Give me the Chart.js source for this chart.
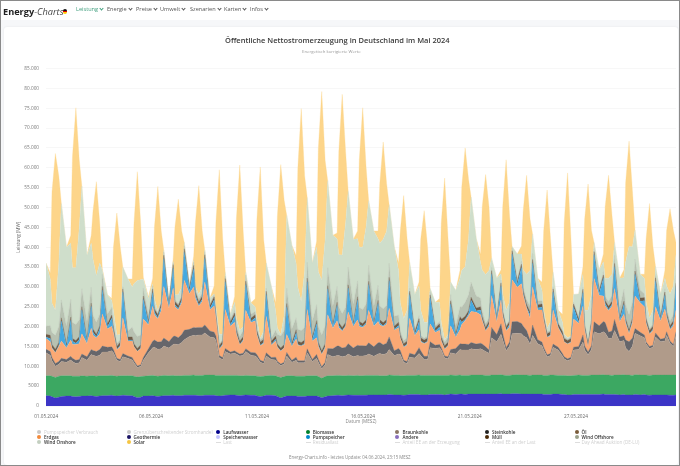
<!DOCTYPE html>
<html lang="de">
<head>
<meta charset="utf-8">
<title>Energy-Charts</title>
<script src="https://cdn.jsdelivr.net/npm/chart.js@4"></script>
<style>
html, body { margin: 0; padding: 0; background: #fff; }
#page { position: relative; width: 680px; height: 466px; overflow: hidden; font-family: "Open Sans", sans-serif; background: #f6f7f9; }
#top { position: absolute; left: 0; top: 0; width: 680px; height: 20px; background: #fff; }
#card { position: absolute; left: 4px; top: 27px; width: 674px; height: 438px; background: #fff; border-radius: 3px; box-shadow: 0 0 2px #e2e4e8; }
#frame { position: absolute; left: 0; top: 0; width: 678px; height: 464px; border: 1px solid #8a8a8a; pointer-events: none; }
#c { position: absolute; left: 0; top: 0; }
#logo { position: absolute; left: 3px; top: 3px; line-height: 13px; color: #222; white-space: nowrap; }
#logo b { font-weight: 700; font-size: 9.2px; }
#logo i { color: #444; font-size: 9.2px; }
#flag { position: absolute; left: 62.5px; top: 9.3px; width: 4.6px; height: 4.6px; border-radius: 50%; background: linear-gradient(#111 33%, #d00 33%, #d00 66%, #fc0 66%); }
#title { position: absolute; left: 225px; top: 35px; font-size: 7.5px; line-height: 10px; font-weight: 600; color: #3a3a3a; white-space: nowrap; }
#subtitle { position: absolute; left: 302px; top: 48px; font-size: 4.3px; line-height: 6px; color: #999; white-space: nowrap; }
.nav { position: absolute; top: 6px; font-size: 5.6px; line-height: 7px; color: #555; white-space: nowrap; }
.nav::after { content: ""; display: inline-block; width: 2px; height: 2px; margin-left: 2px; position: relative; top: -1px; border-right: 0.7px solid currentColor; border-bottom: 0.7px solid currentColor; transform: rotate(45deg); }
.lg { position: absolute; font-size: 4.6px; line-height: 6px; font-weight: 600; color: #333; white-space: nowrap; }
.lg.off { color: #cfcfcf; font-weight: 400; }
.dot { position: absolute; width: 4px; height: 4px; border-radius: 50%; }
.dash { position: absolute; width: 5px; height: 0; border-top: 0.6px solid #ddd; }
#foot { position: absolute; left: 289px; top: 454px; font-size: 4.4px; line-height: 6px; color: #888; white-space: nowrap; }
</style>
</head>
<body>
<div id="page">
  <div id="top"></div>
  <div id="card"></div>
  <canvas id="c" width="680" height="466"></canvas>
  <div id="logo"><b>Energy</b><i>-Charts</i></div>
  <div id="flag"></div>
  <div id="nav"></div>
  <div id="title">Öffentliche Nettostromerzeugung in Deutschland im Mai 2024</div>
  <div id="subtitle">Energetisch korrigierte Werte</div>
  <div id="legend"></div>
  <div id="foot">Energy-Charts.info - letztes Update: 04.06.2024, 23:15 MESZ</div>
  <div id="frame"></div>
</div>
<script>
var hoursOfDay = [2, 7, 9, 13, 17, 20];
var dayCount = 31;
var tickDays = [0.09, 5.21, 10.38, 15.55, 20.77, 25.95];
var tickDates = ['01.05.2024', '06.05.2024', '11.05.2024', '16.05.2024', '21.05.2024', '27.05.2024'];
var navNames = ['Leistung', 'Energie', 'Preise', 'Umwelt', 'Szenarien', 'Karten', 'Infos'];
var navLefts = [76, 107, 136, 160, 190, 224, 250];

var laufwasser = [
2600,2500,2300,2000,2200,2400,
2500,2500,2400,2300,2400,2500,
2500,2600,2500,2400,2500,2600,
2600,2700,2600,2500,2600,2700,
2600,2600,2400,2100,2200,2500,
2500,2600,2500,2400,2500,2600,
2600,2700,2600,2600,2600,2700,
2700,2700,2700,2600,2600,2700,
2700,2700,2600,2500,2600,2700,
2800,2800,2700,2600,2700,2800,
2700,2700,2500,2400,2500,2700,
2700,2600,2400,2000,2300,2500,
2500,2500,2400,2400,2400,2500,
2500,2500,2400,2100,2300,2500,
2600,2700,2700,2600,2700,2800,
2700,2700,2700,2700,2700,2800,
2800,2800,2800,2800,2800,2900,
2800,2800,2800,2700,2800,2900,
2900,2900,2800,2800,2800,2900,
2900,2900,2900,2800,2900,3000,
2900,3000,3000,2900,3000,3000,
3000,3000,3000,3000,3000,3000,
3000,3100,3000,3000,3000,3100,
3100,3000,3000,3000,3000,3000,
3000,3000,2900,2900,2900,3000,
3000,2900,2900,2800,2800,2900,
2900,2900,2900,2900,2900,2900,
2900,3000,2900,2900,2900,2900,
2800,2900,2800,2800,2800,2900,
2800,2900,2800,2700,2800,2800,
2800,2800,2800,2700,2700,2800];

var biomasse = [
5000,5100,5200,5200,5300,5200,
5100,5100,5100,5200,5100,5100,
5000,5000,5100,5100,5100,5000,
5000,5000,5000,5000,5000,4900,
5000,5000,5100,5200,5200,5000,
5100,5100,5100,5100,5100,5100,
5000,5000,5000,5000,5000,5000,
5000,5100,5000,5100,5100,5100,
5100,5100,5100,5200,5100,5000,
4900,4900,5000,5000,4900,4900,
4900,4900,5000,5000,5000,4900,
5000,5000,5000,5200,5100,5100,
5100,5000,5100,5100,5100,5100,
5100,5100,5000,4900,5100,5100,
5000,5000,5000,5000,4900,4900,
4900,5000,4900,4900,5000,4900,
4900,4900,4800,4800,4800,4900,
4900,4900,4800,4900,4900,4800,
4800,4900,4900,4900,4900,4800,
4800,4800,4800,4900,4800,4800,
4800,4800,4700,4800,4700,4800,
4800,4800,4800,4700,4700,4800,
4800,4800,4800,4700,4700,4700,
4800,4800,4800,4800,4700,4800,
4800,4800,4800,4800,4900,4800,
4700,4800,4800,4800,4800,4800,
4900,4800,4800,4800,4900,4900,
4900,4900,4900,4900,4800,4900,
5000,5000,5000,5000,4900,5000,
5000,4900,5000,5000,5000,5000,
5000,5000,5000,5100,5100,5000];

var braunkohle = [
5800,5200,3900,2800,3000,3600,
3400,4000,3700,3200,3400,4600,
4000,5400,5200,5000,5200,6000,
6000,6200,5800,4000,3600,4800,
4400,4000,3400,2400,2600,4000,
5800,7000,7200,6800,6800,7400,
7000,7800,8000,7800,8400,9000,
9800,10000,10000,10200,10200,10600,
9600,9400,8800,4400,4000,6000,
5400,5600,5400,5000,5200,6000,
5200,5000,4800,3600,3200,5000,
4000,4000,3400,3000,3200,5000,
3400,4000,3400,3400,3400,5800,
3600,4400,3600,2400,3000,5400,
4800,5000,5000,4800,5000,5400,
4800,5000,5000,5000,5000,5400,
4800,5400,5600,5400,5600,6400,
5000,5400,5400,3400,3000,4600,
4400,5400,5000,4000,4000,7000,
6800,7000,6400,4400,4200,5600,
5400,6400,6400,6400,6400,6600,
6400,6600,6400,6000,5600,9400,
8400,10200,8900,6200,7400,10400,
10400,10400,9900,9400,7900,10000,
7900,7400,6400,4700,4900,7000,
6400,4900,4200,3800,4200,6400,
6400,8400,6400,5200,6400,10900,
10400,10800,10600,9200,9400,11200,
8400,8600,6800,5900,7400,10400,
9900,9400,7800,6800,7000,9600,
8400,8600,10000,8000,7200,10000];

var steinkohle = [
900,900,800,700,700,800,
700,900,800,800,800,900,
900,1200,1200,1200,1400,1500,
1200,1000,800,500,500,800,
600,600,500,400,400,700,
1000,1600,1800,1800,1800,2000,
1600,2000,2000,1800,2000,2400,
1800,2000,2000,1900,1900,2000,
1500,1400,1200,600,500,800,
500,600,500,500,500,700,
700,800,700,500,500,800,
500,700,500,400,400,900,
500,800,500,500,500,1000,
500,1000,800,500,600,1500,
2000,2400,2400,2200,2200,2600,
2200,2600,2600,2600,2400,2800,
2400,2800,2800,2400,2600,3200,
1200,1400,1000,500,500,1000,
800,1500,1200,800,800,1500,
800,800,600,500,500,800,
1400,1500,1500,1500,1400,1600,
1400,1400,1400,1200,800,2600,
1800,2600,1600,800,1000,3000,
3000,2600,2400,1800,1000,2600,
1000,900,700,500,500,800,
700,600,500,500,500,700,
800,1800,1000,700,1000,2500,
2000,2600,2600,1600,1800,2800,
1200,1200,2000,2500,2000,1200,
900,700,500,500,500,1000,
600,700,900,600,500,900];

var erdgas = [
2700,2500,2300,2700,3700,4400,
2900,4100,3500,4000,4000,5100,
3300,5400,3800,3400,4000,8100,
4600,5200,4200,2100,3300,9000,
3800,4200,3500,3600,4000,9700,
6000,8800,6400,5800,7800,13000,
8400,12200,7400,7000,8000,12600,
9000,10200,7400,5300,6500,10800,
5300,6600,4400,1600,3100,9800,
6500,7200,4500,2300,3100,9700,
7500,8000,4900,3700,4500,9200,
3100,4100,3500,3200,3600,4500,
3500,4600,3900,3700,4100,9900,
4700,4200,3200,3100,3600,8500,
5200,6400,4600,4200,5200,8000,
5400,6400,4800,4600,5400,8200,
5200,5400,4400,4600,4800,7200,
5200,5200,3000,3300,4100,8800,
4800,4500,2200,3200,3600,4500,
3200,3600,1600,1700,2700,6000,
2800,3500,4900,5900,7200,7800,
8000,7200,5800,4000,6000,8000,
3200,6000,4300,4200,3800,10600,
8600,10000,7700,5600,5500,9600,
7500,8100,6700,4400,4400,8600,
4900,4500,3700,3700,3700,7100,
5800,7200,4000,1300,5000,10900,
7600,6400,4200,5400,6200,7800,
3800,5400,4200,2000,3800,8200,
7400,7100,4700,3100,3700,6600,
4600,7300,3500,2800,4700,5500];

var pumpspeicher = [
300,800,200,100,300,5000,
200,5000,800,300,1000,6000,
300,5500,800,300,1200,6000,
500,2000,500,100,300,6500,
200,200,100,100,200,5000,
300,3500,600,300,1000,7000,
300,5000,500,300,600,7000,
600,4500,800,300,600,6000,
300,1500,300,100,300,7000,
300,1500,300,100,300,6500,
300,800,300,100,300,5500,
200,400,100,100,100,7000,
100,1500,200,100,300,7000,
200,3500,300,100,300,6500,
300,3800,500,200,300,6000,
300,5000,500,200,400,6500,
300,4500,500,200,400,7000,
200,600,100,100,300,6000,
200,2000,300,100,200,6500,
300,800,200,100,200,5500,
200,2500,600,300,500,2800,
300,1200,300,100,500,5500,
300,3500,400,200,600,6500,
600,4000,400,200,800,6000,
500,700,200,100,300,4500,
200,200,100,100,200,3000,
300,3500,400,100,500,6000,
400,4500,600,300,500,5500,
300,2500,400,200,500,5500,
400,1500,300,100,300,6500,
300,3500,500,200,500,6000];

var muell = [
800,800,800,800,800,800,
800,800,700,700,800,800,
800,800,800,700,800,900,
800,800,800,800,800,800,
800,800,700,700,800,800,
800,900,800,800,800,900,
800,900,800,800,800,900,
800,900,800,800,800,900,
800,800,800,800,800,800,
800,800,800,800,800,900,
800,800,800,800,800,800,
800,800,700,700,800,800,
800,800,800,800,800,900,
800,800,800,800,800,800,
800,800,800,800,800,800,
800,800,800,800,800,800,
800,800,800,800,800,800,
800,800,800,800,800,800,
800,800,800,800,800,800,
800,800,800,800,800,800,
800,800,800,800,800,800,
800,800,800,800,800,800,
800,800,800,800,800,800,
800,900,800,800,800,900,
800,800,800,800,800,800,
800,800,800,800,800,800,
800,800,800,800,800,800,
800,800,800,800,800,800,
800,800,800,800,800,800,
800,800,800,800,800,800,
800,800,800,800,800,800];

var windOffshore = [
2000,2500,3000,3500,4000,4500,
4500,4500,4000,4000,4200,4500,
4500,4000,3500,3000,3000,3000,
2500,2000,1200,800,600,500,
1500,2500,3000,3000,2500,2000,
1500,800,600,500,500,800,
600,500,500,500,500,800,
800,800,800,800,800,800,
600,600,600,500,500,600,
800,800,1000,1200,1500,1500,
1000,800,600,600,600,800,
800,1500,2500,3000,3500,3800,
3500,3000,3000,3000,3200,4000,
4000,4000,4000,4000,4500,4500,
4500,4000,4000,3500,3800,4500,
4500,4000,3500,3500,4000,4000,
4000,3800,3500,3500,3500,3500,
2500,1800,1000,800,800,800,
700,700,600,500,500,700,
600,600,700,900,1200,1500,
2000,2500,3000,3500,4000,3800,
3000,2200,1500,1000,800,800,
800,700,500,500,500,800,
800,800,1000,1200,1500,1500,
1000,800,500,500,400,500,
400,400,400,400,400,400,
500,500,500,600,600,700,
800,800,1000,1200,1500,2000,
2500,3000,3500,3800,4000,3000,
2000,1000,600,500,500,500,
800,800,1000,1200,1500,1800];

var windOnshore = [
15900,11700,7400,6300,15900,24300,
19900,14100,13800,14300,23200,25900,
16600,11100,14100,11700,12800,1000,
4800,1700,3100,2100,1300,5000,
13100,10100,12100,14100,13900,2200,
4000,400,2000,400,200,400,
200,300,1200,2200,2100,800,
200,500,600,1100,1600,400,
1300,100,1300,2400,1200,900,
1100,1900,1900,1500,1000,700,
2900,1200,2300,300,1500,6300,
13000,4900,1600,400,3800,18400,
21100,13700,10600,7300,14100,16300,
14600,14500,13700,13800,21600,21900,
17800,12000,13100,14700,21100,19100,
16400,10600,15200,15700,19400,16300,
18900,11700,15800,17500,18700,14800,
17500,11200,7100,5500,6900,6400,
8700,7500,6300,4000,3500,900,
5900,4800,3100,500,800,3200,
8800,7200,9200,9000,14100,21400,
14500,9000,10200,12300,11900,2300,
9100,1600,3900,3700,4300,300,
6200,1800,4200,6400,8900,4900,
5700,2700,1100,900,2100,3700,
3000,2000,700,300,200,2000,
5800,3200,3300,7700,6100,1600,
4400,2500,4600,5900,5200,3300,
7400,2900,10700,17200,13900,7300,
4000,3900,3700,2600,3600,2400,
4900,2700,5700,6800,7200,5400];

var solar = [
0,1500,28000,39500,22000,0,
0,2000,28000,40300,17000,0,
0,2000,12000,23700,10000,500,
0,500,16000,30700,22000,0,
0,2000,15000,27400,14000,500,
500,1500,18000,31400,17500,0,
0,800,17000,24100,14000,0,
0,1000,16000,27400,14000,0,
0,2000,21000,41400,24000,0,
0,1500,25000,41700,24000,0,
0,2000,25000,43200,23000,0,
0,2000,28000,42800,29000,0,
0,2000,30000,48600,24000,0,
0,1500,31000,47500,20000,0,
0,1500,26000,40500,18000,0,
0,2000,22000,35100,15000,0,
0,2000,15000,24500,12000,0,
0,2000,18000,31000,18000,0,
0,1000,18000,28100,19000,0,
0,1000,25000,40800,24000,0,
0,2000,21000,29900,15000,0,
0,2000,16000,25200,16000,0,
0,1000,22000,37900,22000,0,
0,2000,15000,24900,13000,0,
0,2000,20000,34800,21000,0,
0,2000,28000,41500,24400,0,
0,2000,23000,31800,16000,0,
0,2000,18000,25900,15000,0,
0,2000,20000,26500,14000,0,
0,1000,16000,28900,16000,0,
0,2000,14000,21500,14000,3000];

var legendNames = [
  'Pumpspeicher Verbrauch', 'Grenzüberschreitender Stromhandel', 'Laufwasser', 'Biomasse', 'Braunkohle', 'Steinkohle', 'Öl',
  'Erdgas', 'Geothermie', 'Speicherwasser', 'Pumpspeicher', 'Andere', 'Müll', 'Wind Offshore',
  'Wind Onshore', 'Solar', 'Last', 'Residuallast', 'Anteil EE an der Erzeugung', 'Anteil EE an der Last', 'Day Ahead Auktion (DE-LU)'
];
var legendColors = [
  '#c9c9c9', '#c9c9c9', '#00008b', '#00802b', '#8b7765', '#222222', '#7a5c3a',
  '#f28a3c', '#1b1464', '#c4c4ff', '#0088cc', '#8a6ebd', '#4a2a08', '#9aa08a',
  '#c3cfc0', '#f5c542', null, null, null, null, null
];
var legendOff = [0, 1, 16, 17, 18, 19, 20];

var xPos = [];
for (var d = 0; d < dayCount; d++) {
  for (var h in hoursOfDay) {
    xPos.push(d + hoursOfDay[h] / 24);
  }
}

function area(name, values, color, fill) {
  return {
    label: name,
    data: values.map(function (v, i) { return { x: xPos[i], y: v }; }),
    backgroundColor: color,
    borderColor: color,
    borderWidth: 0.3,
    pointRadius: 0,
    tension: 0,
    fill: fill
  };
}

var smallFont = { family: '"Open Sans", sans-serif', size: 4.7 };

new Chart(document.getElementById('c').getContext('2d'), {
  type: 'line',
  data: {
    datasets: [
      area('Laufwasser', laufwasser, '#3c35c6', 'origin'),
      area('Biomasse', biomasse, '#3ca862', '-1'),
      area('Braunkohle', braunkohle, '#b09b8a', '-1'),
      area('Steinkohle', steinkohle, '#66666b', '-1'),
      area('Erdgas', erdgas, '#fba974', '-1'),
      area('Pumpspeicher', pumpspeicher, '#45a9e0', '-1'),
      area('Müll', muell, '#6f5c48', '-1'),
      area('Wind Offshore', windOffshore, '#b8c2b2', '-1'),
      area('Wind Onshore', windOnshore, '#cfdecb', '-1'),
      area('Solar', solar, '#fdd58a', '-1')
    ]
  },
  options: {
    responsive: false,
    animation: false,
    devicePixelRatio: 1,
    layout: { padding: { left: 16, right: 4, top: 68.5, bottom: 42 } },
    plugins: {
      legend: { display: false },
      tooltip: { enabled: false }
    },
    scales: {
      x: {
        type: 'linear',
        min: 2 / 24,
        max: 30 + 20 / 24,
        grid: { display: false },
        border: { display: false },
        title: { display: true, text: 'Datum (MESZ)', color: '#888', font: smallFont, padding: 0 },
        afterBuildTicks: function (scale) {
          scale.ticks = tickDays.map(function (v) { return { value: v }; });
        },
        afterFit: function (scale) { scale.height = 18; },
        ticks: {
          color: '#666',
          font: smallFont,
          autoSkip: false,
          maxRotation: 0,
          padding: 0,
          callback: function (v, i) { return tickDates[i]; }
        }
      },
      y: {
        stacked: true,
        min: 0,
        max: 85000,
        grid: { color: '#f3f3f3', lineWidth: 0.7, drawTicks: false },
        border: { display: false },
        title: { display: true, text: 'Leistung (MW)', color: '#666', font: smallFont, padding: 0 },
        afterFit: function (scale) { scale.width = 30; },
        ticks: {
          stepSize: 5000,
          color: '#777',
          font: smallFont,
          padding: 7,
          callback: function (v) { return v < 10000 ? String(v) : v.toLocaleString('de-DE'); }
        }
      }
    }
  }
});

var nav = document.getElementById('nav');
navNames.forEach(function (name, i) {
  var el = document.createElement('div');
  el.className = 'nav';
  el.style.left = navLefts[i] + 'px';
  if (i === 0) el.style.color = '#3f9e7d';
  el.textContent = name;
  nav.appendChild(el);
});

var legend = document.getElementById('legend');
legendNames.forEach(function (name, i) {
  var col = i % 7, row = Math.floor(i / 7);
  var x = 39 + col * 89.6, y = 431.7 + row * 5.3;
  var mark = document.createElement('div');
  var color = legendColors[i];
  mark.className = color ? 'dot' : 'dash';
  mark.style.left = (x - 2) + 'px';
  mark.style.top = (color ? y - 2 : y) + 'px';
  if (color) mark.style.background = color;
  legend.appendChild(mark);
  var txt = document.createElement('div');
  txt.className = 'lg' + (legendOff.indexOf(i) >= 0 ? ' off' : '');
  txt.style.left = (x + 5) + 'px';
  txt.style.top = (y - 3) + 'px';
  txt.textContent = name;
  legend.appendChild(txt);
});
</script>
</body>
</html>
